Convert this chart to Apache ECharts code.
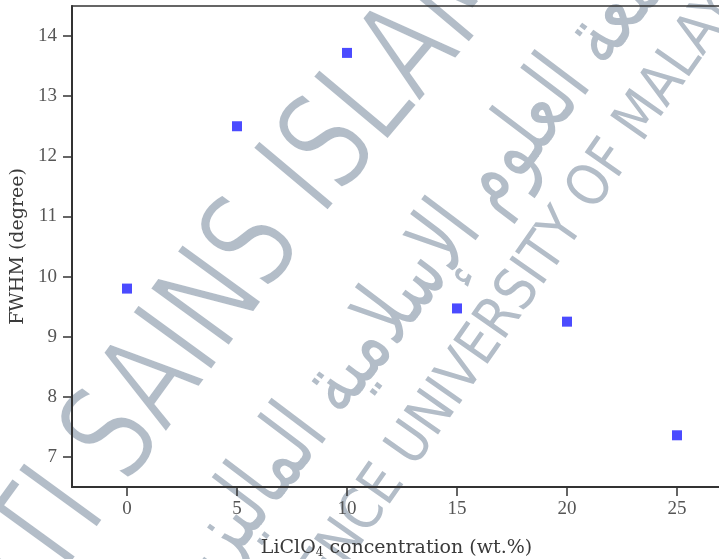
<!DOCTYPE html>
<html>
<head>
<meta charset="utf-8">
<script src="https://cdn.jsdelivr.net/npm/echarts@6/dist/echarts.min.js"></script>
<style>html,body{margin:0;padding:0;background:#fff}#c{width:719px;height:559px}</style>
</head>
<body>
<div id="c"></div>
<script>
// Data
var concentration = [0, 5, 10, 15, 20, 25];
var fwhm = [9.80, 12.50, 13.72, 9.47, 9.25, 7.36];
var xTicks = [0, 5, 10, 15, 20, 25];
var yTicks = [7, 8, 9, 10, 11, 12, 13, 14];

var points = concentration.map(function (c, i) { return [c, fwhm[i]]; });

var wm = '#b3bdc8';
var deg = Math.PI / 180;
var serif = '"Liberation Serif", "DejaVu Serif", serif';
var titleFont = '"DejaVu Serif", serif';

// watermark text: a filled glyph plus an optional white outline on top that thins the strokes
function wmText(text, x, y, r, sy, size, align, lw) {
  var base = {type: 'text', x: x, y: y, rotation: r * deg, scaleY: sy, silent: true};
  var font = size + 'px "DejaVu Sans"';
  var out = [Object.assign({}, base, {z: -10, style: {text: text, font: font, fill: wm, align: align, verticalAlign: 'middle'}})];
  if (lw > 0) {
    out.push(Object.assign({}, base, {z: -9, style: {text: text, font: font, fill: 'none', stroke: '#fff', lineWidth: lw, align: align, verticalAlign: 'middle'}}));
  }
  return out;
}

var watermark = [].concat(
  wmText('UNIVERSITI SAINS\u00A0', 295, 196, 54, 1.35, 100, 'right', 2),
  wmText('ISLAM MALAYSIA', 295, 196, 50, 1.35, 100, 'left', 2),
  wmText('جامعة العلوم الإسلامية الماليزية', 430, 262, 53, 1.4, 64, 'center', 0),
  wmText('ISLAMIC SCIENCE\u00A0', 402, 460, 55, 1.15, 50, 'right', 0),
  wmText('UNIVERSITY OF MALAYSIA', 402, 460, 55, 1.15, 50, 'left', 0)
);

var chart = echarts.init(document.getElementById('c'), null, {renderer: 'canvas'});
chart.setOption({
  animation: false,
  backgroundColor: '#fff',
  grid: {left: 72, right: -2, top: 6, bottom: 72, outerBoundsMode: 'none', containLabel: false,
         show: true, borderColor: '#333', borderWidth: 1.5, backgroundColor: 'transparent'},
  graphic: watermark,
  xAxis: {
    type: 'value', min: -2.5, max: 27,
    name: '{a|LiClO}{s|4}{a| concentration (wt.%)}',
    nameLocation: 'middle', nameGap: 50,
    nameTextStyle: {rich: {a: {fontFamily: titleFont, fontSize: 19, color: '#3a3a3a'}, s: {fontFamily: titleFont, fontSize: 12, color: '#3a3a3a', verticalAlign: 'bottom', padding: [10, 0, 0, 0]}}},
    axisLine: {show: true, onZero: false, lineStyle: {color: '#333', width: 2}},
    axisTick: {show: true, inside: false, length: 9, customValues: xTicks, lineStyle: {color: '#333', width: 1.5}},
    axisLabel: {customValues: xTicks, margin: 13, fontFamily: serif, fontSize: 19, color: '#555'},
    splitLine: {show: false}
  },
  yAxis: {
    type: 'value', min: 6.5, max: 14.5,
    name: 'FWHM (degree)', nameLocation: 'middle', nameGap: 39,
    nameTextStyle: {fontFamily: titleFont, fontSize: 19, color: '#3a3a3a'},
    axisLine: {show: true, onZero: false, lineStyle: {color: '#333', width: 2}},
    axisTick: {show: true, inside: false, length: 9, customValues: yTicks, lineStyle: {color: '#333', width: 1.5}},
    axisLabel: {customValues: yTicks, margin: 15, fontFamily: serif, fontSize: 19, color: '#555'},
    splitLine: {show: false}
  },
  series: [{
    type: 'scatter', data: points, symbol: 'rect', symbolSize: 10,
    itemStyle: {color: '#4b4bff', opacity: 1}, z: 5
  }]
});
</script>
</body>
</html>
